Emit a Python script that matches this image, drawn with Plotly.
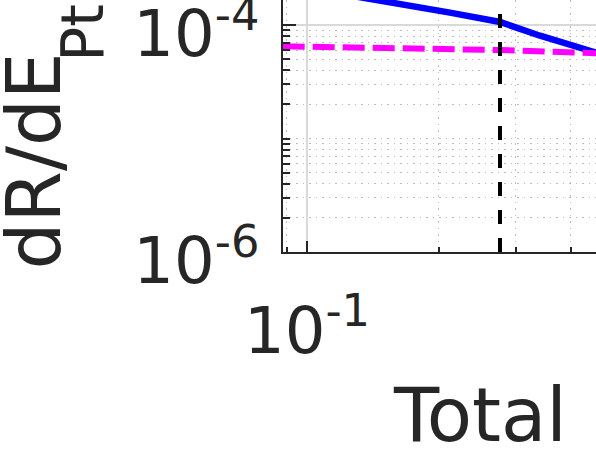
import plotly.graph_objects as go

# values
energy_blue = [0.088, 0.1523, 0.1656, 0.212, 0.2759, 0.3404, 0.4427, 0.46]
rate_blue = [2.3e-4, 1.62e-4, 1.52e-4, 1.285e-4, 1.063e-4, 8.05e-5, 5.93e-5, 5.66e-5]

energy_mag = [0.088, 0.1523, 0.2759, 0.4427, 0.46]
rate_mag = [6.49e-5, 6.34e-5, 6.02e-5, 5.67e-5, 5.64e-5]

threshold = 0.2758
ymin, ymax = 1e-6, 1e-3

xtick_vals = [0.1]
xtick_text = ["10<sup>-1</sup>"]
ytick_vals = [1e-6, 1e-4]
ytick_text = ["10<sup>-6</sup>", "10<sup>-4</sup>"]

x_minor = [0.09, 0.2, 0.3, 0.4, 0.5]
y_minor = [m * 10.0 ** e for e in (-6, -5, -4) for m in range(1, 10) if not (m == 1 and e != -5)]

ink = "#262626"

fig = go.Figure()
fig.add_trace(go.Scatter(x=energy_blue, y=rate_blue, mode="lines", line=dict(color="#0000ff", width=6.5)))
fig.add_trace(go.Scatter(x=energy_mag, y=rate_mag, mode="lines", line=dict(color="#ff00ff", width=6, dash="22px,8px")))
fig.add_trace(go.Scatter(x=[threshold, threshold], y=[ymin, ymax], mode="lines", line=dict(color="black", width=4, dash="14px,14px")))

axis_common = dict(
    type="log", showline=True, linecolor=ink, linewidth=1.5, mirror=False, automargin=False,
    ticks="inside", tickcolor=ink, tickwidth=1.5, tickmode="array", ticklabeloverflow="allow",
    showgrid=True, gridcolor="#d9d9d9", gridwidth=1.5,
    tickfont=dict(family="DejaVu Sans", size=64, color=ink),
)

fig.update_xaxes(
    **axis_common, range=[-1.0548, -0.3402], tickvals=xtick_vals, ticktext=xtick_text, ticklen=11,
    ticklabelstandoff=22,
    minor=dict(tickmode="array", tickvals=x_minor, ticks="inside", ticklen=5, tickcolor=ink, tickwidth=1.5,
               showgrid=True, gridcolor="#bdbdbd", griddash="1.5px,5px", gridwidth=1.2),
)
fig.update_yaxes(
    **axis_common, range=[-6, -3.7797], tickvals=ytick_vals, ticktext=ytick_text, ticklen=13,
    ticklabelshift=9, ticklabelstandoff=9,
    minor=dict(tickmode="array", tickvals=y_minor, ticks="inside", ticklen=7, tickcolor=ink, tickwidth=1.5,
               showgrid=True, gridcolor="#bdbdbd", griddash="1.5px,5px", gridwidth=1.2),
)

title_font = dict(family="DejaVu Sans", size=74, color=ink)
fig.add_annotation(text="dR/dE", xref="paper", yref="paper", x=-0.795, y=0.36,
                   textangle=-90, showarrow=False, xanchor="center", yanchor="middle", font=title_font)
fig.add_annotation(text="Pt", xref="paper", yref="paper", x=-0.639, y=0.87,
                   textangle=-90, showarrow=False, xanchor="center", yanchor="middle",
                   font=dict(family="DejaVu Sans", size=58, color=ink))
fig.add_annotation(text="Total", xref="paper", yref="paper", x=0.628, y=-0.647,
                   showarrow=False, xanchor="center", yanchor="middle", font=title_font)

fig.update_layout(
    width=596, height=458, showlegend=False,
    margin=dict(l=283, r=0, t=0, b=206),
    paper_bgcolor="white", plot_bgcolor="white",
)

fig.write_html("out.html", config={"displayModeBar": False},
               post_script="document.body.style.margin='0';")
